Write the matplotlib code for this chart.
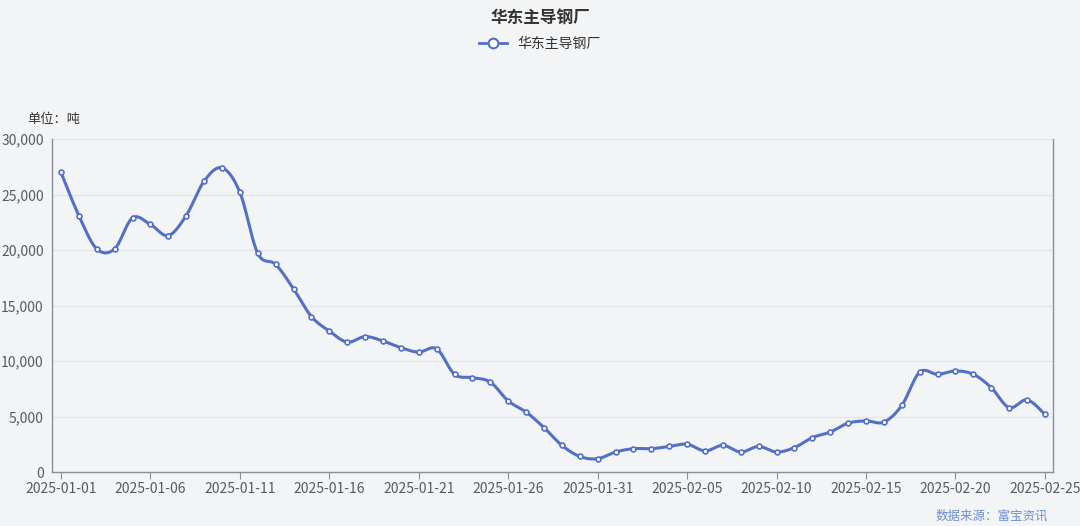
import numpy as np
import pandas as pd
import matplotlib
matplotlib.use("Agg")
import matplotlib.pyplot as plt
import matplotlib.dates as mdates
from matplotlib.ticker import FuncFormatter

plt.rcParams['font.family'] = ['Noto Sans CJK SC', 'DejaVu Sans']

dates = pd.date_range("2025-01-01", "2025-02-25", freq="D")
values = [27000, 23100, 20100, 20100, 22900, 22300, 21300, 23100, 26200, 27400,
          25200, 19700, 18700, 16500, 14000, 12700, 11700, 12200, 11800, 11200,
          10800, 11100, 8800, 8500, 8100, 6400, 5400, 4000, 2400, 1400,
          1200, 1800, 2100, 2100, 2300, 2500, 1900, 2400, 1800, 2300,
          1800, 2200, 3100, 3600, 4400, 4600, 4500, 6000, 9000, 8800,
          9100, 8800, 7600, 5800, 6500, 5200]
series_name = "华东主导钢厂"
title = "华东主导钢厂"
unit = "单位：吨"
source = "数据来源：富宝资讯"
color = "#5470c6"
bg = "#f3f4f6"

x = mdates.date2num(dates)
y = np.array(values, dtype=float)

# smooth curve through the points (Catmull-Rom style cubic Bezier)
def smooth(xs, ys, n=20, t=0.5):
    px, py = [], []
    N = len(xs)
    for i in range(N - 1):
        x0, y0 = xs[max(i - 1, 0)], ys[max(i - 1, 0)]
        x1, y1 = xs[i], ys[i]
        x2, y2 = xs[i + 1], ys[i + 1]
        x3, y3 = xs[min(i + 2, N - 1)], ys[min(i + 2, N - 1)]
        c1x, c1y = x1 + (x2 - x0) * t / 3, y1 + (y2 - y0) * t / 3
        c2x, c2y = x2 - (x3 - x1) * t / 3, y2 - (y3 - y1) * t / 3
        s = np.linspace(0, 1, n, endpoint=False)
        px.extend((1-s)**3*x1 + 3*(1-s)**2*s*c1x + 3*(1-s)*s**2*c2x + s**3*x2)
        py.extend((1-s)**3*y1 + 3*(1-s)**2*s*c1y + 3*(1-s)*s**2*c2y + s**3*y2)
    px.append(xs[-1]); py.append(ys[-1])
    return np.array(px), np.array(py)

sx, sy = smooth(x, y)

fig = plt.figure(figsize=(10.8, 5.26), dpi=100, facecolor=bg)
ax = fig.add_axes([52/1080, 1 - 472/526, (1053-52)/1080, (472-139)/526])
ax.set_facecolor(bg)
ax.plot(sx, sy, color=color, lw=2.2, zorder=3)
ax.plot(x, y, 'o', ms=3.5, mfc='white', mec=color, mew=1.2, zorder=4)
ax.plot([], [], '-o', color=color, lw=2, ms=7, mfc='white', mec=color, mew=1.5, label=series_name)

ax.set_xlim(x[0] - 0.5, x[-1] + 0.45)
ax.set_ylim(0, 30000)
ax.set_yticks(range(0, 30001, 5000))
ax.yaxis.set_major_formatter(FuncFormatter(lambda v, p: f"{int(v):,}"))
ax.set_xticks(x[::5])
ax.set_xticklabels([d.strftime("%Y-%m-%d") for d in dates[::5]])
ax.grid(axis='y', color='#e0e6f1', lw=1)
ax.set_axisbelow(True)
for s in ['top']:
    ax.spines[s].set_visible(False)
for s in ['left', 'right', 'bottom']:
    ax.spines[s].set_color('#8a8f99')
    ax.spines[s].set_linewidth(1)
ax.tick_params(axis='y', length=0, labelsize=10, colors='#555b66', pad=6)
ax.tick_params(axis='x', length=5, color='#8a8f99', labelsize=10, labelcolor='#555b66', pad=2)

fig.text(0.5, 1 - 18/526, title, ha='center', va='center', fontsize=12, fontweight='bold', color='#333333')
fig.legend(loc='center', bbox_to_anchor=(0.5, 1 - 44/526), frameon=False, fontsize=10,
           handlelength=2, labelcolor='#333333')
fig.text(27/1080, 1 - 119/526, unit, ha='left', va='center', fontsize=9.5, color='#333333')
fig.text(1048/1080, 1 - 516/526, source, ha='right', va='center', fontsize=9, color='#6b8fd6')

fig.savefig("out.png", dpi=100, facecolor=bg)
